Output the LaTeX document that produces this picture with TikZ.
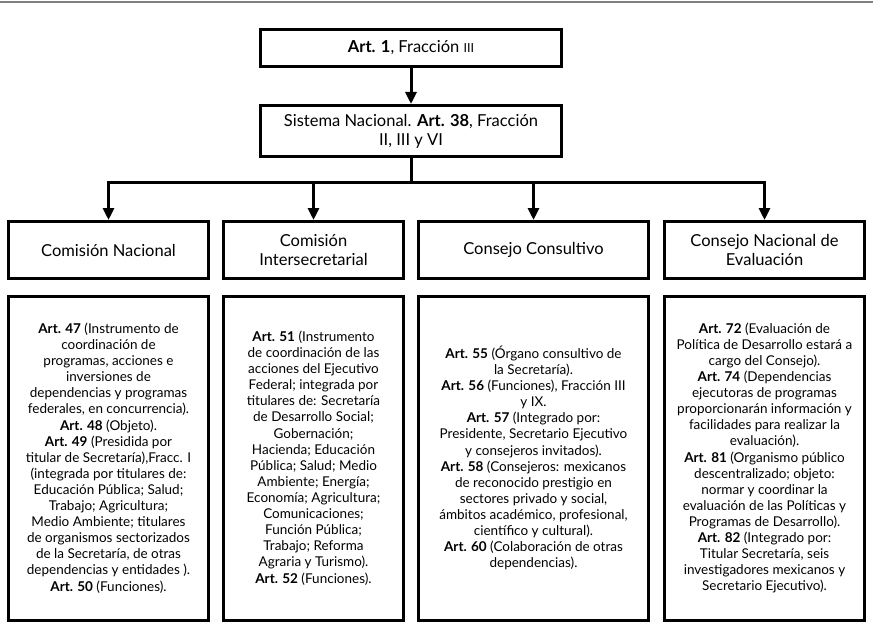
\documentclass[tikz,border=0pt]{standalone}
\usepackage{fontspec}
\setmainfont{Lato}
\usetikzlibrary{positioning,arrows.meta}

\begin{document}
\begin{tikzpicture}[x=1pt,y=-1pt,
  box/.style={draw,line width=3pt,inner sep=2pt,align=center},
  topbox/.style={box,minimum width=301,font=\fontsize{16.5}{19}\selectfont},
  headbox/.style={box,minimum height=57,font=\fontsize{16.5}{19}\selectfont},
  bodybox/.style={box,minimum height=324,font=\fontsize{13.5}{16.1}\selectfont},
  conn/.style={line width=3pt,-{Triangle[width=11pt,length=12pt]}},
  stem/.style={line width=3pt}]
\useasboundingbox (0,0) rectangle (873,623);
\draw[gray,line width=1.5pt] (0,2) -- (873,2);

% upper chain
\node[topbox,minimum height=37] (art1) at (411,48) {\textbf{Art. 1}, Fracción {\fontsize{12.5}{14}\selectfont III}};
\node[topbox,minimum height=51] (sisnal) at (411,131) {Sistema Nacional. \textbf{Art. 38}, Fracción\\II, III y VI};
\coordinate (split) at (411,182);

% headers
\node[headbox,minimum width=200] (comnac) at (108.5,250) {Comisión Nacional};
\node[headbox,minimum width=180] (cominter) at (313.5,250) {Comisión\\Intersecretarial};
\node[headbox,minimum width=230] (conscons) at (533.5,250) {Consejo Consultivo};
\node[headbox,minimum width=200] (conseval) at (764.5,250) {Consejo Nacional de\\Evaluación};

% bodies
\node[bodybox,minimum width=200] (comnacbody) at (108.5,458) {\textbf{Art. 47} (Instrumento de\\
coordinación de\\
programas, acciones e\\
inversiones de\\
dependencias y programas\\
federales, en concurrencia).\\
\textbf{Art. 48} (Objeto).\\
\textbf{Art. 49} (Presidida por\\
titular de Secretaría),Fracc. I\\
(integrada por titulares de:\\
Educación Pública; Salud;\\
Trabajo; Agricultura;\\
Medio Ambiente; titulares\\
de organismos sectorizados\\
de la Secretaría, de otras\\
dependencias y entidades ).\\
\textbf{Art. 50} (Funciones).};

\node[bodybox,minimum width=180] (cominterbody) at (313.5,458) {\textbf{Art. 51} (Instrumento\\
de coordinación de las\\
acciones del Ejecutivo\\
Federal; integrada por\\
titulares de: Secretaría\\
de Desarrollo Social;\\
Gobernación;\\
Hacienda; Educación\\
Pública; Salud; Medio\\
Ambiente; Energía;\\
Economía; Agricultura;\\
Comunicaciones;\\
Función Pública;\\
Trabajo; Reforma\\
Agraria y Turismo).\\
\textbf{Art. 52} (Funciones).};

\node[bodybox,minimum width=230] (consconsbody) at (533.5,458) {\textbf{Art. 55} (Órgano consultivo de\\
la Secretaría).\\
\textbf{Art. 56} (Funciones), Fracción III\\
y IX.\\
\textbf{Art. 57} (Integrado por:\\
Presidente, Secretario Ejecutivo\\
y consejeros invitados).\\
\textbf{Art. 58} (Consejeros: mexicanos\\
de reconocido prestigio en\\
sectores privado y social,\\
ámbitos académico, profesional,\\
científico y cultural).\\
\textbf{Art. 60} (Colaboración de otras\\
dependencias).};

\node[bodybox,minimum width=200] (consevalbody) at (764.5,458) {\textbf{Art. 72} (Evaluación de\\
Política de Desarrollo estará a\\
cargo del Consejo).\\
\textbf{Art. 74} (Dependencias\\
ejecutoras de programas\\
proporcionarán información y\\
facilidades para realizar la\\
evaluación).\\
\textbf{Art. 81} (Organismo público\\
descentralizado; objeto:\\
normar y coordinar la\\
evaluación de las Políticas y\\
Programas de Desarrollo).\\
\textbf{Art. 82} (Integrado por:\\
Titular Secretaría, seis\\
investigadores mexicanos y\\
Secretario Ejecutivo).};

% connectors
\draw[conn] (art1) -- (sisnal);
\draw[stem] (sisnal) -- (split);
\draw[conn] (split) -| (comnac.north);
\draw[conn] (split) -| (cominter.north);
\draw[conn] (split) -| (conscons.north);
\draw[conn] (split) -| (conseval.north);
\end{tikzpicture}
\end{document}
